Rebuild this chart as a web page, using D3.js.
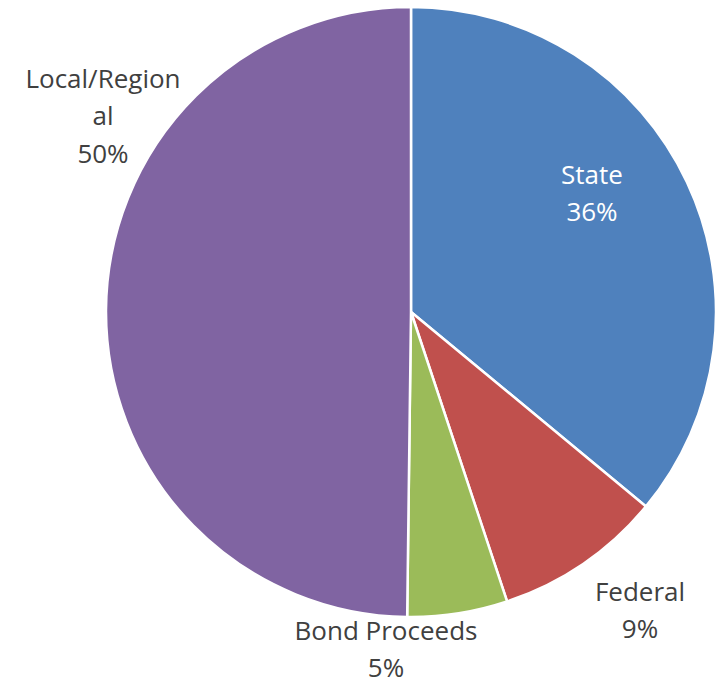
<!DOCTYPE html>
<html>
<head>
<meta charset="utf-8">
<script src="https://cdn.jsdelivr.net/npm/d3@7"></script>
<style>
  html, body { margin: 0; padding: 0; background: #fff; overflow: hidden; }
  .slice-label { font-family: "Open Sans", Lato, sans-serif; font-size: 26px; }
</style>
</head>
<body>
<div class="pie_chart"></div>
<script>
// Chart data
const categories = ["State", "Federal", "Bond Proceeds", "Local/Regional"];
const shares = [36.0, 8.9, 5.3, 49.8];
const colors = ["#4F81BD", "#C0504D", "#9BBB59", "#8064A2"];

// Label lines as they wrap in the picture
const labelLines = [["State"], ["Federal"], ["Bond Proceeds"], ["Local/Region", "al"]];
const labelPos = [[592, 175], [640, 592], [386, 631], [103, 79]];
const labelFill = ["#ffffff", "#404040", "#404040", "#404040"];

const width = 717;
const height = 686;
const cx = 411, cy = 312, radius = 305;

const svg = d3.select(".pie_chart")
    .append("svg")
    .attr("width", width)
    .attr("height", height);

const g = svg.append("g")
    .attr("transform", `translate(${cx},${cy})`);

const data = categories.map((c, i) => ({ key: c, value: shares[i], i }));

const pie = d3.pie()
    .value(d => d.value)
    .sort(null);

const arc = d3.arc()
    .innerRadius(0)
    .outerRadius(radius);

g.selectAll("path")
    .data(pie(data))
    .enter()
    .append("path")
    .attr("d", arc)
    .attr("fill", d => colors[d.data.i])
    .attr("stroke", "#fff")
    .attr("stroke-width", 2.5)
    .attr("stroke-linejoin", "round");

// Labels
const lineH = 37.5;
data.forEach(d => {
    const lines = labelLines[d.i].concat([Math.round(d.value) + "%"]);
    const [lx, ly] = labelPos[d.i];
    const t = svg.append("text")
        .attr("class", "slice-label")
        .attr("text-anchor", "middle")
        .attr("fill", labelFill[d.i]);
    lines.forEach((s, k) => {
        t.append("tspan")
            .attr("x", lx)
            .attr("y", ly + k * lineH)
            .attr("dy", "0.33em")
            .text(s);
    });
});
</script>
</body>
</html>
